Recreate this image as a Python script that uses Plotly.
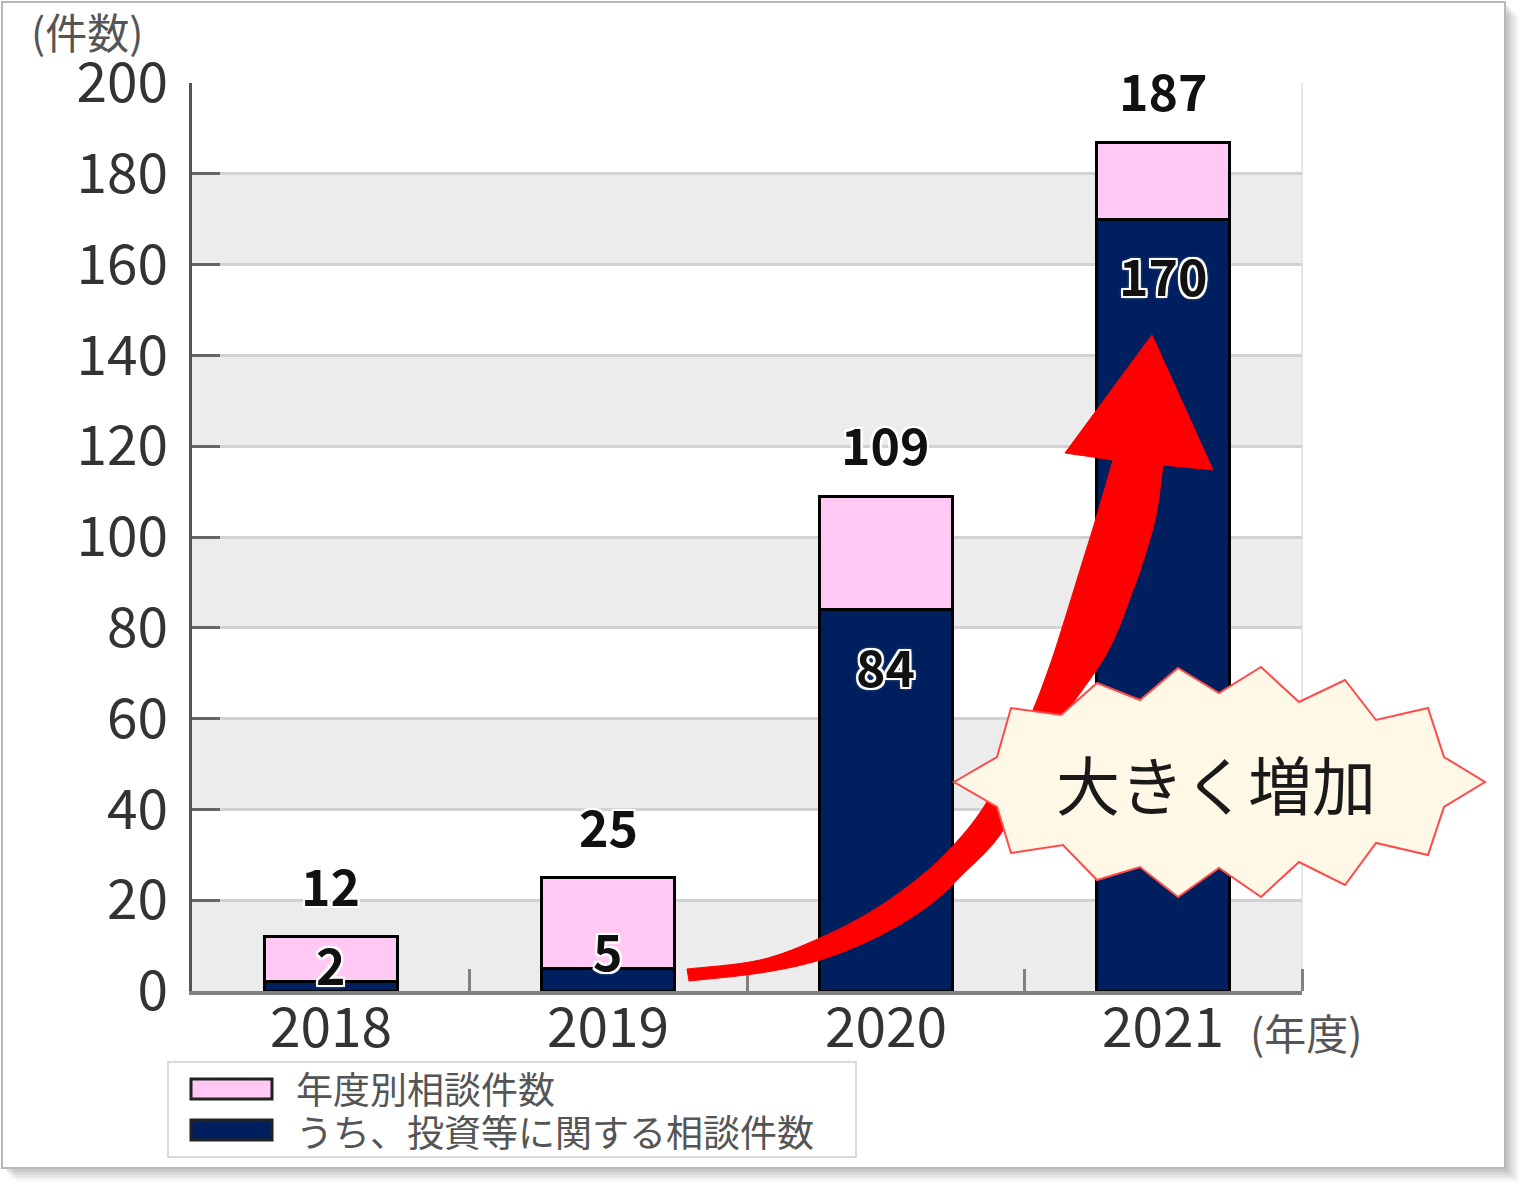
import plotly.graph_objects as go

# ---------------- data ----------------
years = ["2018", "2019", "2020", "2021"]
total_counts = [12, 25, 109, 187]          # 年度別相談件数
invest_counts = [2, 5, 84, 170]            # うち、投資等に関する相談件数
y_ticks = [0, 20, 40, 60, 80, 100, 120, 140, 160, 180, 200]
legend_labels = ["年度別相談件数", "うち、投資等に関する相談件数"]
callout_text = "大きく増加"

# ---------------- geometry ----------------
FW, FH = 1536, 1194
L, R, T, B = 192, 1302, 83, 991          # plot area in pixels
PW, PH = R - L, B - T
YMAX = 200
PX_PER_UNIT = PH / YMAX

NAVY = "#001f5e"
PINK = "#ffc9f3"
JP = "Noto Sans CJK JP"


def P(px, py):
    """pixel -> paper coordinates (for decorations only)"""
    return (px - L) / PW, (B - py) / PH


def path_from(pts):
    s = []
    for i, (px, py) in enumerate(pts):
        x, y = P(px, py)
        s.append(("M" if i == 0 else "L") + f"{x:.5f},{y:.5f}")
    return " ".join(s) + " Z"


def smooth(pts, n=8):
    """Catmull-Rom smoothing of a decoration outline"""
    out = []
    m = len(pts)
    for i in range(m - 1):
        p0 = pts[max(i - 1, 0)]
        p1 = pts[i]
        p2 = pts[i + 1]
        p3 = pts[min(i + 2, m - 1)]
        for k in range(n):
            t = k / n
            t2, t3 = t * t, t * t * t
            x = 0.5 * ((2 * p1[0]) + (-p0[0] + p2[0]) * t +
                       (2 * p0[0] - 5 * p1[0] + 4 * p2[0] - p3[0]) * t2 +
                       (-p0[0] + 3 * p1[0] - 3 * p2[0] + p3[0]) * t3)
            y = 0.5 * ((2 * p1[1]) + (-p0[1] + p2[1]) * t +
                       (2 * p0[1] - 5 * p1[1] + 4 * p2[1] - p3[1]) * t2 +
                       (-p0[1] + 3 * p1[1] - 3 * p2[1] + p3[1]) * t3)
            out.append((x, y))
    out.append(pts[-1])
    return out


xs = list(range(len(years)))
pink_part = [t - i for t, i in zip(total_counts, invest_counts)]

fig = go.Figure()
fig.add_trace(go.Bar(x=xs, y=invest_counts, name=legend_labels[1], width=0.48,
                     marker=dict(color=NAVY, line=dict(color="#000000", width=3)),
                     showlegend=False, hoverinfo="skip"))
fig.add_trace(go.Bar(x=xs, y=pink_part, name=legend_labels[0], width=0.48,
                     marker=dict(color=PINK, line=dict(color="#000000", width=3)),
                     showlegend=False, hoverinfo="skip"))

shapes = []

# outer panel with shadow
for k, op in enumerate([0.05, 0.07, 0.09, 0.12, 0.15]):
    off = 14 - k * 2.5
    x0, y0 = P(2 + off, 2 + off)
    x1, y1 = P(1505 + off, 1168 + off)
    shapes.append(dict(type="rect", xref="paper", yref="paper", x0=x0, y0=y0, x1=x1, y1=y1,
                       fillcolor=f"rgba(120,120,120,{op})", line=dict(width=0), layer="below"))
x0, y0 = P(2, 2)
x1, y1 = P(1505, 1168)
shapes.append(dict(type="rect", xref="paper", yref="paper", x0=x0, y0=y0, x1=x1, y1=y1,
                   fillcolor="white", line=dict(color="#b8b8b8", width=2), layer="below"))

# alternating bands
for i in range(0, len(y_ticks) - 1, 2):
    shapes.append(dict(type="rect", xref="paper", yref="y", x0=0, x1=1,
                       y0=y_ticks[i], y1=y_ticks[i + 1], fillcolor="#ececec",
                       line=dict(width=0), layer="below"))
# right light border of plot
shapes.append(dict(type="line", xref="paper", yref="y", x0=1, x1=1, y0=0, y1=YMAX,
                   line=dict(color="#e6e6e6", width=2), layer="below"))

# red curved arrow (smoothed outline)
left_edge = [(687, 969), (760, 960), (820, 938), (877, 908), (927, 871), (960, 838),
             (985, 805), (1010, 760), (1033, 710), (1050, 665), (1063, 625),
             (1080, 570), (1097, 515), (1113, 460)]
right_edge = [(1163, 465), (1156, 515), (1145, 555), (1133, 590), (1107, 653),
              (1063, 718), (1030, 778), (1000, 835), (960, 877), (927, 907),
              (877, 937), (820, 960), (760, 973), (689, 981)]
arrow_pts = smooth(left_edge) + [(1065, 453), (1152, 335), (1213, 470)] + smooth(right_edge)
shapes.append(dict(type="path", xref="paper", yref="paper", path=path_from(arrow_pts),
                   fillcolor="#ff0000", line=dict(color="#ff0000", width=1), layer="above"))

# starburst callout
star_pts = [
    (954, 782), (997, 757), (1011, 708), (1061, 715), (1097, 683), (1140, 700),
    (1178, 668), (1219, 693), (1261, 667), (1299, 702), (1345, 680), (1376, 720),
    (1428, 708), (1444, 757), (1485, 782), (1444, 807), (1428, 855), (1376, 843),
    (1345, 885), (1299, 862), (1261, 897), (1219, 868), (1178, 897), (1140, 867),
    (1097, 880), (1063, 845), (1011, 853), (997, 807),
]
shapes.append(dict(type="path", xref="paper", yref="paper", path=path_from(star_pts),
                   fillcolor="#fff8e6", line=dict(color="#ff4a4a", width=2), layer="above"))

# legend box
lx0, ly0 = P(168, 1062)
lx1, ly1 = P(856, 1157)
shapes.append(dict(type="rect", xref="paper", yref="paper", x0=lx0, y0=ly0, x1=lx1, y1=ly1,
                   fillcolor="white", line=dict(color="#dadada", width=2), layer="above"))
for (sy0, sy1), col in zip([(1079, 1099), (1120, 1140)], [PINK, NAVY]):
    a0, b0 = P(191, sy0)
    a1, b1 = P(272, sy1)
    shapes.append(dict(type="rect", xref="paper", yref="paper", x0=a0, y0=b0, x1=a1, y1=b1,
                       fillcolor=col, line=dict(color="#222222", width=3), layer="above"))

annotations = []
HALO = ("2px 0 0 #fff, -2px 0 0 #fff, 0 2px 0 #fff, 0 -2px 0 #fff, "
        "2px 2px 0 #fff, -2px -2px 0 #fff, 2px -2px 0 #fff, -2px 2px 0 #fff, 0 0 4px #fff")

for x, t in zip(xs, total_counts):
    annotations.append(dict(x=x, y=t, xref="x", yref="y", text=f"<b>{t}</b>", showarrow=False,
                            yanchor="middle", yshift=53,
                            font=dict(family=JP, size=50, color="#111111", shadow=HALO)))
for x, v in zip(xs, invest_counts):
    shift = -55 if v * PX_PER_UNIT > 110 else 19
    annotations.append(dict(x=x, y=v, xref="x", yref="y", text=f"<b>{v}</b>", showarrow=False,
                            yanchor="middle", yshift=shift,
                            font=dict(family=JP, size=50, color="#111111", shadow=HALO)))

# category labels under the axis
for x, yr in zip(xs, years):
    annotations.append(dict(x=x, y=0, xref="x", yref="y", text=yr, showarrow=False,
                            yanchor="middle", yshift=-32,
                            font=dict(family=JP, size=55, color="#333333")))

# callout text
cx, cy = P(1216, 782)
annotations.append(dict(x=cx, y=cy, xref="paper", yref="paper", text=callout_text,
                        showarrow=False, xanchor="center", yanchor="middle",
                        font=dict(family=JP, size=64, color="#1a1a1a")))

# axis unit labels
ax_, ay_ = P(87, 30)
annotations.append(dict(x=ax_, y=ay_, xref="paper", yref="paper", text="(件数)",
                        showarrow=False, xanchor="center", yanchor="middle",
                        font=dict(family=JP, size=42, color="#555555")))
ax_, ay_ = P(1306, 1031)
annotations.append(dict(x=ax_, y=ay_, xref="paper", yref="paper", text="(年度)",
                        showarrow=False, xanchor="center", yanchor="middle",
                        font=dict(family=JP, size=42, color="#555555")))

# legend texts
for lab, yy in zip(legend_labels, [1088, 1131]):
    tx, ty = P(294, yy)
    annotations.append(dict(x=tx, y=ty, xref="paper", yref="paper", text=lab,
                            showarrow=False, xanchor="left", yanchor="middle",
                            font=dict(family=JP, size=37, color="#555555")))

fig.update_layout(
    width=FW, height=FH,
    margin=dict(l=L, r=FW - R, t=T, b=FH - B, pad=0),
    barmode="stack",
    paper_bgcolor="white",
    plot_bgcolor="rgba(0,0,0,0)",
    showlegend=False,
    shapes=shapes,
    annotations=annotations,
    xaxis=dict(range=[-0.5, len(years) - 0.5], tickvals=xs, ticktext=years,
               showticklabels=False,
               showgrid=False, zeroline=False, ticks="",
               showline=True, linecolor="#808080", linewidth=4,
               minor=dict(tickvals=[x + 0.5 for x in xs], ticks="inside", ticklen=22,
                          tickwidth=3, tickcolor="#808080", showgrid=False)),
    yaxis=dict(range=[0, YMAX], tickvals=y_ticks, ticktext=[str(v) for v in y_ticks],
               showgrid=True, gridcolor="#d2d2d2", gridwidth=3, zeroline=False,
               ticks="inside", ticklen=28, tickwidth=3, tickcolor="#666666",
               showline=True, linecolor="#555555", linewidth=3,
               tickfont=dict(family=JP, size=55, color="#333333"),
               ticklabelstandoff=10),
)

fig.write_html("out.html")
